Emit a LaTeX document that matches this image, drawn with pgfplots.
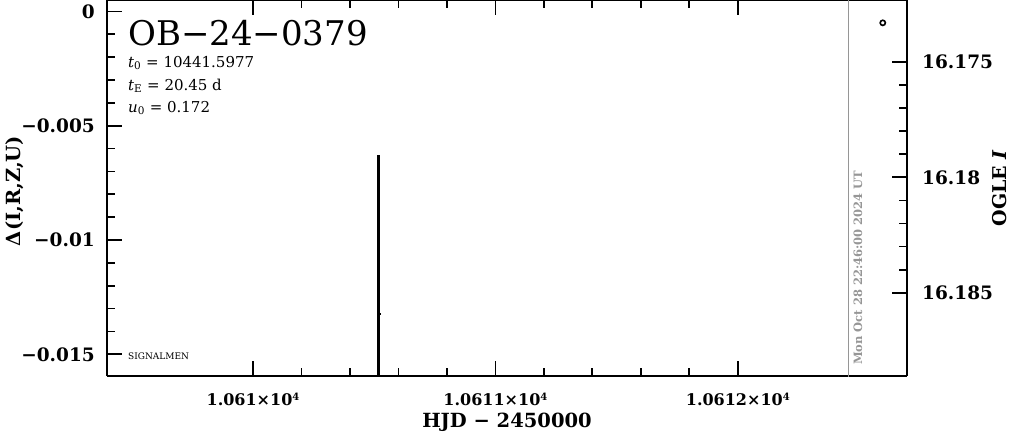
\documentclass[border=0pt]{standalone}
\usepackage{fontspec}
\setmainfont{DejaVu Serif}
\usepackage{pgfplots}
\pgfplotsset{compat=1.18}
\definecolor{dategray}{RGB}{150,150,150}
\newcommand{\sups}{\raisebox{0.55ex}{\fontsize{10}{10}\selectfont 4}}
\begin{document}
\begin{tikzpicture}
\pgfplotsset{
  common/.style={
    scale only axis, width=800pt, height=376pt,
    xmin=10609.3977, xmax=10612.698,
    tick align=inside,
    major tick length=15pt, minor tick length=8pt,
    every tick/.style={black, line width=1.8pt},
    axis line style={line width=2.2pt},
    minor x tick num=4, minor y tick num=4,
    scaled x ticks=false, scaled y ticks=false,
    clip=true,
  }
}
\begin{axis}[common, name=ax,
  ymin=-0.01595, ymax=0.0005,
  axis y line*=left,
  xtick={10610,10611,10612},
  xticklabels={1.061×10\sups, 1.0611×10\sups, 1.0612×10\sups},
  xticklabel style={font=\bfseries\fontsize{16}{16}\selectfont, inner sep=0pt, anchor=north, yshift=-17pt},
  ytick={-0.015,-0.01,-0.005,0},
  yticklabels={−0.015,−0.01,−0.005,0},
  yticklabel style={font=\bfseries\fontsize{18.5}{18.5}\selectfont, inner sep=0pt, anchor=east, xshift=-12pt},
]
\addplot[black, line width=2.2pt, mark=-, mark size=2pt,
  error bars/.cd, y dir=both, y explicit, error mark=none,
  error bar style={line width=2.4pt}]
  coordinates {(10610.518,-0.01324) +- (0,0.00698)};
\node[anchor=base west, inner sep=0pt, font=\fontsize{34}{34}\selectfont] at (rel axis cs:0.02625,0.8803) {OB−24−0379};
\node[anchor=base west, inner sep=0pt, font=\fontsize{15}{15}\selectfont] at (rel axis cs:0.02625,0.8218) {\textit{t}\textsubscript{0} = 10441.5977};
\node[anchor=base west, inner sep=0pt, font=\fontsize{15}{15}\selectfont] at (rel axis cs:0.02625,0.7606) {\textit{t}\textsubscript{E} = 20.45 d};
\node[anchor=base west, inner sep=0pt, font=\fontsize{15}{15}\selectfont] at (rel axis cs:0.02625,0.7021) {\textit{u}\textsubscript{0} = 0.172};
\node[anchor=base west, inner sep=0pt, font=\fontsize{9}{9}\selectfont] at (rel axis cs:0.02625,0.045) {SIGNALMEN};
\end{axis}
\begin{axis}[common,
  ymin=16.17231, ymax=16.18861, y dir=reverse,
  axis y line*=right, axis x line=none,
  ytick={16.175,16.18,16.185},
  yticklabels={16.175,16.18,16.185},
  yticklabel style={font=\bfseries\fontsize{18.5}{18.5}\selectfont, inner sep=0pt, anchor=west, xshift=15pt},
]
\addplot[dategray, line width=1.2pt] coordinates {(10612.455,16.17) (10612.455,16.19)};
\addplot[only marks, black, mark=o, mark size=2.6pt, mark options={line width=1.6pt}]
  coordinates {(10612.598,16.1733)};
\node[rotate=90, anchor=base west, inner sep=0pt, text=dategray, font=\bfseries\fontsize{11.5}{11.5}\selectfont] at (rel axis cs:0.944,0.029) {Mon Oct 28 22:46:00 2024 UT};
\end{axis}
\node[rotate=90, anchor=center, inner sep=0pt, font=\bfseries\fontsize{19.5}{19.5}\selectfont] at ([xshift=-92pt,yshift=-3pt]ax.west) {Δ(I,R,Z,U)};
\node[rotate=90, anchor=center, inner sep=0pt, font=\bfseries\fontsize{19}{19}\selectfont] at ([xshift=93pt]ax.east) {OGLE \textit{I}};
\node[anchor=center, inner sep=0pt, font=\bfseries\fontsize{19.5}{19.5}\selectfont] at ([yshift=-46pt]ax.south) {HJD − 2450000};
\pgfresetboundingbox
\path[use as bounding box] ([xshift=-107pt,yshift=-58pt]ax.south west) rectangle ([xshift=104pt]ax.north east);
\end{tikzpicture}
\end{document}
